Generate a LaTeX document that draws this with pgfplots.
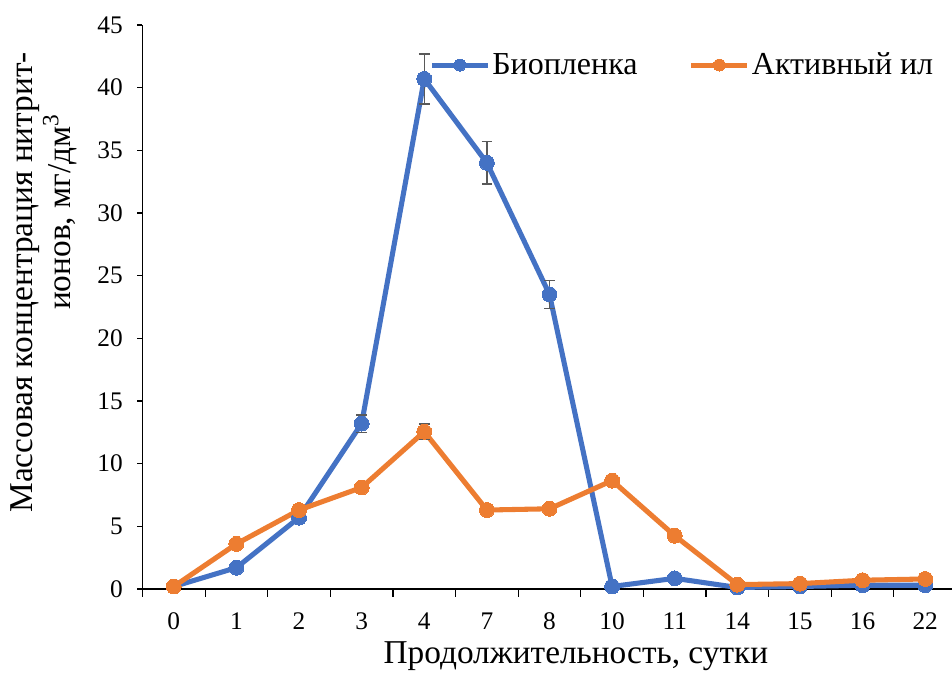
\documentclass[border=0pt]{standalone}
\usepackage{fontspec}
\setmainfont{Liberation Serif}
\usepackage{pgfplots}
\pgfplotsset{compat=1.18}
\usepackage{pgfplotstable}

\definecolor{bio}{HTML}{4472C4}
\definecolor{ail}{HTML}{ED7D31}
\definecolor{errgray}{HTML}{595959}

% nitrite concentration by day index (0..12), with standard deviation
\pgfplotstableread{
x y err
0 0.2 0
1 1.7 0
2 5.7 0
3 13.2 0.7
4 40.7 2.0
5 34.0 1.7
6 23.5 1.1
7 0.2 0
8 0.85 0
9 0.12 0
10 0.2 0
11 0.3 0
12 0.3 0
}\biofilm

\pgfplotstableread{
x y err
0 0.2 0
1 3.6 0
2 6.3 0
3 8.1 0
4 12.55 0.63
5 6.3 0
6 6.4 0
7 8.65 0.4
8 4.25 0
9 0.35 0
10 0.43 0
11 0.7 0
12 0.8 0
}\sludge

\begin{document}
\begin{tikzpicture}
\begin{axis}[
  at={(0,0)}, anchor=south west,
  scale only axis,
  width=610.5pt, height=423pt,
  xmin=-0.5, xmax=12.5, ymin=0, ymax=45,
  axis x line*=bottom, axis y line*=left,
  axis line style={black, line width=0.9pt},
  clip=false,
  xtick={0,...,12},
  xticklabels={0,1,2,3,4,7,8,10,11,14,15,16,22},
  minor xtick={-0.5,0.5,...,12.5},
  major x tick style={draw=none},
  minor x tick style={black, line width=0.9pt},
  minor tick length=6pt,
  ytick={0,5,...,45},
  major tick length=3.75pt,
  major y tick style={black, line width=0.9pt},
  tick align=outside,
  /pgf/number format/assume math mode=true,
  xticklabel style={font=\fontsize{19}{19}\selectfont, yshift=-10.5pt},
  yticklabel style={font=\fontsize{19}{19}\selectfont, xshift=-7.5pt},
  legend columns=2,
  legend style={at={(0.352,0.929)}, anchor=west, draw=none, fill=none,
    inner sep=0pt, font=\fontsize{24}{28}\selectfont,
    nodes={inner sep=1.5pt},
    /tikz/every even column/.append style={column sep=37pt}},
  legend image code/.code={
    \draw[#1, mark repeat=2, mark phase=2, mark size=4.5pt]
      plot coordinates {(0pt,0pt) (21pt,0pt) (42pt,0pt)};},
]
\addplot[bio, line width=3.8pt, line join=round, mark=*, mark size=5.6pt,
  mark options={fill=bio, draw=bio, line width=0pt},
  error bars/.cd, y dir=both, y explicit,
  error bar style={errgray, line width=1.1pt},
  error mark options={errgray, line width=1.1pt, mark size=4pt, rotate=90}]
  table[x=x, y=y, y error=err] {\biofilm};
\addlegendentry{Биопленка}
\addplot[ail, line width=3.8pt, line join=round, mark=*, mark size=5.6pt,
  mark options={fill=ail, draw=ail, line width=0pt},
  error bars/.cd, y dir=both, y explicit,
  error bar style={errgray, line width=1.1pt},
  error mark options={errgray, line width=1.1pt, mark size=4pt, rotate=90}]
  table[x=x, y=y, y error=err] {\sludge};
\addlegendentry{Активный ил}
\end{axis}
% axis titles
\node[font=\fontsize{25}{28}\selectfont, anchor=base] at (325pt,-56.25pt)
  {Продолжительность, сутки};
\node[font=\fontsize{25}{28}\selectfont, rotate=90] at (-88.1pt,230pt)
  {Массовая концентрация нитрит-};
\node[font=\fontsize{25}{28}\selectfont, rotate=90] at (-61.9pt,282.75pt)
  {ионов, мг/дм\textsuperscript{3}};
\pgfresetboundingbox
\useasboundingbox (-106.875pt,-63pt) rectangle (607.125pt,441.75pt);
\end{tikzpicture}
\end{document}
